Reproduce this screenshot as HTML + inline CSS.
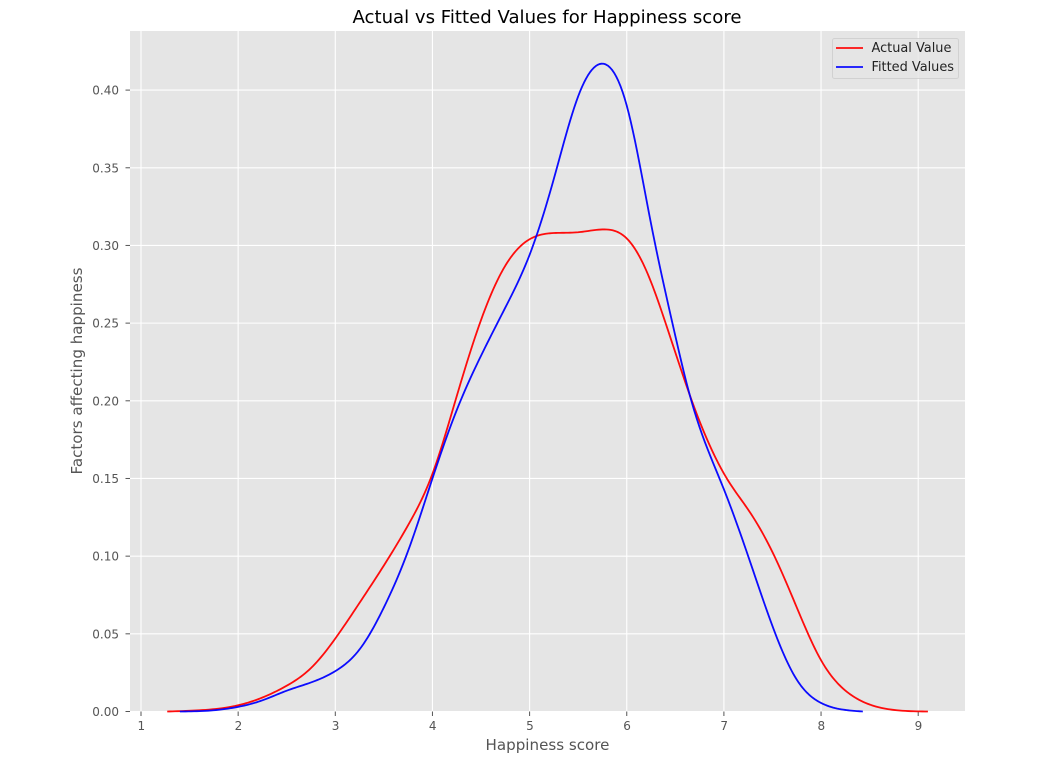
<!DOCTYPE html>
<html>
<head>
<meta charset="utf-8">
<title>Actual vs Fitted Values for Happiness score</title>
<style>
  html, body { margin: 0; padding: 0; background: #fff; }
  svg { display: block; filter: blur(0.35px); }
  text { font-family: "DejaVu Sans", "Liberation Sans", sans-serif; }
</style>
</head>
<body>
<svg id="chart" xmlns="http://www.w3.org/2000/svg" width="1053" height="773" viewBox="0 0 1053 773">
  <rect x="130" y="31" width="835" height="680.5" fill="#e5e5e5"/>
  <g id="grid"></g>
  <g id="ticks"></g>
  <g id="series"></g>
  <text x="547" y="23" font-size="18.1" fill="#000" text-anchor="middle">Actual vs Fitted Values for Happiness score</text>
  <text x="547.5" y="750" font-size="15.1" fill="#555" text-anchor="middle">Happiness score</text>
  <text x="0" y="0" font-size="15.1" fill="#555" text-anchor="middle" transform="translate(82 371) rotate(-90)">Factors affecting happiness</text>
  <g>
    <rect x="832.5" y="38.5" width="126" height="40" rx="2" fill="#e5e5e5" fill-opacity="0.8" stroke="#cccccc" stroke-opacity="0.8"/>
    <line x1="836" y1="48" x2="863" y2="48" stroke="#ff0000" stroke-opacity="0.95" stroke-width="1.8"/>
    <text x="871.5" y="52" font-size="12.9" fill="#222">Actual Value</text>
    <line x1="836" y1="67" x2="863" y2="67" stroke="#0000ff" stroke-opacity="0.95" stroke-width="1.8"/>
    <text x="871.5" y="71" font-size="12.9" fill="#222">Fitted Values</text>
  </g>
</svg>
<script>
const xTickLabels = ["1", "2", "3", "4", "5", "6", "7", "8", "9"];
const yTickLabels = ["0.00", "0.05", "0.10", "0.15", "0.20", "0.25", "0.30", "0.35", "0.40"];

const actualX = [1.27, 1.6, 2, 2.25, 2.5, 2.75, 3, 3.25, 3.5, 3.75, 4, 4.25, 4.5, 4.75, 5, 5.25, 5.5, 5.75, 6, 6.2, 6.4, 6.67, 7.03, 7.26, 7.52, 7.75, 8, 8.25, 8.5, 8.75, 9.1];
const actualY = [0, 0.0008, 0.004, 0.009, 0.0166, 0.028, 0.047, 0.07, 0.094, 0.12, 0.153, 0.203, 0.252, 0.287, 0.304, 0.308, 0.3085, 0.3103, 0.3045, 0.284, 0.25, 0.2, 0.15, 0.129, 0.1, 0.067, 0.033, 0.0135, 0.0045, 0.001, 0];

const fittedX = [1.4, 1.75, 2, 2.25, 2.5, 2.75, 3, 3.25, 3.5, 3.75, 4, 4.25, 4.5, 4.75, 5, 5.25, 5.5, 5.74, 6, 6.25, 6.47, 6.665, 7, 7.25, 7.53, 7.75, 8, 8.25, 8.43];
const fittedY = [0, 0.0008, 0.003, 0.0072, 0.0134, 0.0187, 0.026, 0.04, 0.067, 0.1035, 0.15, 0.194, 0.229, 0.26, 0.294, 0.343, 0.396, 0.417, 0.39, 0.314, 0.25, 0.2, 0.143, 0.1, 0.05, 0.0205, 0.0055, 0.001, 0];

const NS = "http://www.w3.org/2000/svg";
const xPos = v => 141 + (v - 1) * 97.15;
const yPos = v => 711.5 - v * 1553.5;

function svgEl(parent, tag, attrs) {
  const el = document.createElementNS(NS, tag);
  for (const k in attrs) el.setAttribute(k, attrs[k]);
  parent.appendChild(el);
  return el;
}

/* natural cubic spline through the data points, sampled finely */
function curvePath(xs, ys) {
  const n = xs.length;
  const h = [], a = new Array(n).fill(0), b = new Array(n).fill(1), c = new Array(n).fill(0), r = new Array(n).fill(0);
  for (let i = 0; i < n - 1; i++) h.push(xs[i + 1] - xs[i]);
  for (let i = 1; i < n - 1; i++) {
    a[i] = h[i - 1];
    b[i] = 2 * (h[i - 1] + h[i]);
    c[i] = h[i];
    r[i] = 6 * ((ys[i + 1] - ys[i]) / h[i] - (ys[i] - ys[i - 1]) / h[i - 1]);
  }
  for (let i = 1; i < n; i++) {
    const w = a[i] / b[i - 1];
    b[i] -= w * c[i - 1];
    r[i] -= w * r[i - 1];
  }
  const M = new Array(n).fill(0);
  M[n - 1] = r[n - 1] / b[n - 1];
  for (let i = n - 2; i >= 0; i--) M[i] = (r[i] - c[i] * M[i + 1]) / b[i];
  let d = "M" + xPos(xs[0]).toFixed(2) + " " + yPos(ys[0]).toFixed(2);
  for (let i = 0; i < n - 1; i++) {
    for (let s = 1; s <= 12; s++) {
      const t = s / 12, u = 1 - t, hi = h[i];
      const x = xs[i] + t * hi;
      const y = u * ys[i] + t * ys[i + 1] + ((u * u * u - u) * M[i] + (t * t * t - t) * M[i + 1]) * hi * hi / 6;
      d += "L" + xPos(x).toFixed(2) + " " + yPos(Math.max(0, y)).toFixed(2);
    }
  }
  return d;
}

const grid = document.getElementById("grid");
const ticks = document.getElementById("ticks");

xTickLabels.forEach(label => {
  const x = xPos(parseFloat(label));
  const g = svgEl(grid, "line", { x1: x, y1: 31, x2: x, y2: 711.5, stroke: "#fff", "stroke-width": 1.1 });
  
  
  const t = svgEl(ticks, "line", { x1: x, y1: 711.5, x2: x, y2: 716, stroke: "#555", "stroke-width": 1 });
  
  
  const l = svgEl(ticks, "text", { x: x + 0.3, y: 730, "font-size": 12, fill: "#555", "text-anchor": "middle" });
  l.textContent = label;
  
  
});

yTickLabels.forEach(label => {
  const y = yPos(parseFloat(label));
  const g = svgEl(grid, "line", { x1: 130, y1: y, x2: 965, y2: y, stroke: "#fff", "stroke-width": 1.1 });
  
  
  const t = svgEl(ticks, "line", { x1: 125.5, y1: y, x2: 130, y2: y, stroke: "#555", "stroke-width": 1 });
  
  
  const l = svgEl(ticks, "text", { x: 119, y: y + 4.5, "font-size": 12, fill: "#555", "text-anchor": "end" });
  l.textContent = label;
  
  
});

const seriesGroup = document.getElementById("series");
const actualLine = svgEl(seriesGroup, "path", { d: curvePath(actualX, actualY), fill: "none", stroke: "#ff0000", "stroke-opacity": 0.95, "stroke-width": 1.8, "stroke-linejoin": "round" });


const fittedLine = svgEl(seriesGroup, "path", { d: curvePath(fittedX, fittedY), fill: "none", stroke: "#0000ff", "stroke-opacity": 0.95, "stroke-width": 1.8, "stroke-linejoin": "round" });


</script>
</body>
</html>
